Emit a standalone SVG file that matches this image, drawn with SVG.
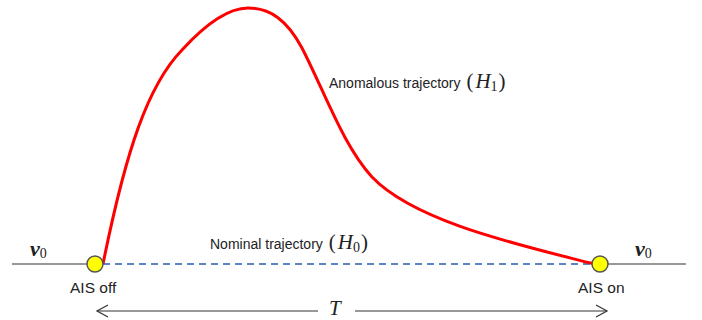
<svg xmlns="http://www.w3.org/2000/svg" width="702" height="320" viewBox="0 0 702 320">
<style>
.lbl{font-family:"Liberation Sans","DejaVu Sans",sans-serif;font-size:14px;fill:#222}
.ais{font-family:"Liberation Sans","DejaVu Sans",sans-serif;font-size:15.5px;fill:#222}
.math{font-family:"Liberation Serif","DejaVu Serif",serif;font-style:italic;font-size:21px;fill:#222}
.paren{font-family:"Liberation Serif","DejaVu Serif",serif;font-size:21px;fill:#222}
.sub{font-family:"Liberation Serif","DejaVu Serif",serif;font-size:14px;fill:#222}
.vec{font-family:"Liberation Serif","DejaVu Serif",serif;font-style:italic;font-weight:bold;font-size:22px;fill:#222}
.node{fill:#ffff00;stroke:#555;stroke-width:1.5}
.base{stroke:#333;stroke-width:1.2;fill:none}
</style>
<defs>
<marker id="ah" markerWidth="14" markerHeight="14" refX="12" refY="7" orient="auto-start-reverse" markerUnits="userSpaceOnUse">
<path d="M1,1 L12,7 L1,13" fill="none" stroke="#333" stroke-width="1.2"/>
</marker>
</defs>
<g id="connectors">
<line class="base" x1="12" y1="264" x2="88" y2="264"/>
<line class="base" x1="608" y1="264" x2="686" y2="264"/>
<line x1="103" y1="264" x2="592" y2="264" stroke="#5b85c4" stroke-width="1.8" stroke-dasharray="7,5"/>
<path d="M103,264 C126,150 148,85 182,50 C203,27 226,8 248,8 C270,8 287,20 302,48 C326,95 343,145 372,177 C415,222 520,245 594,264" fill="none" stroke="#ff0000" stroke-width="3"/>
<line class="base" x1="97" y1="311" x2="318" y2="311" marker-start="url(#ah)"/>
<line class="base" x1="355" y1="311" x2="607" y2="311" marker-end="url(#ah)"/>
</g>
<g id="ais-off">
<circle class="node" cx="95" cy="264" r="8"/>
<text class="ais" x="70" y="293">AIS off</text>
</g>
<g id="ais-on">
<circle class="node" cx="600" cy="264" r="8"/>
<text class="ais" x="578" y="293">AIS on</text>
</g>
<g id="labels">
<text x="30" y="256"><tspan class="vec">v</tspan><tspan class="sub" dy="2">0</tspan></text>
<text x="635" y="256"><tspan class="vec">v</tspan><tspan class="sub" dy="2">0</tspan></text>
<text x="329" y="88"><tspan class="lbl">Anomalous trajectory </tspan><tspan class="paren" dx="2">(</tspan><tspan class="math" dx="2">H</tspan><tspan class="sub" dy="3">1</tspan><tspan class="paren" dy="-3" dx="1">)</tspan></text>
<text x="210" y="249"><tspan class="lbl">Nominal trajectory </tspan><tspan class="paren" dx="2">(</tspan><tspan class="math" dx="2">H</tspan><tspan class="sub" dy="3">0</tspan><tspan class="paren" dy="-3" dx="1">)</tspan></text>
<text class="math" x="329" y="315" font-size="19">T</text>
</g>
</svg>
